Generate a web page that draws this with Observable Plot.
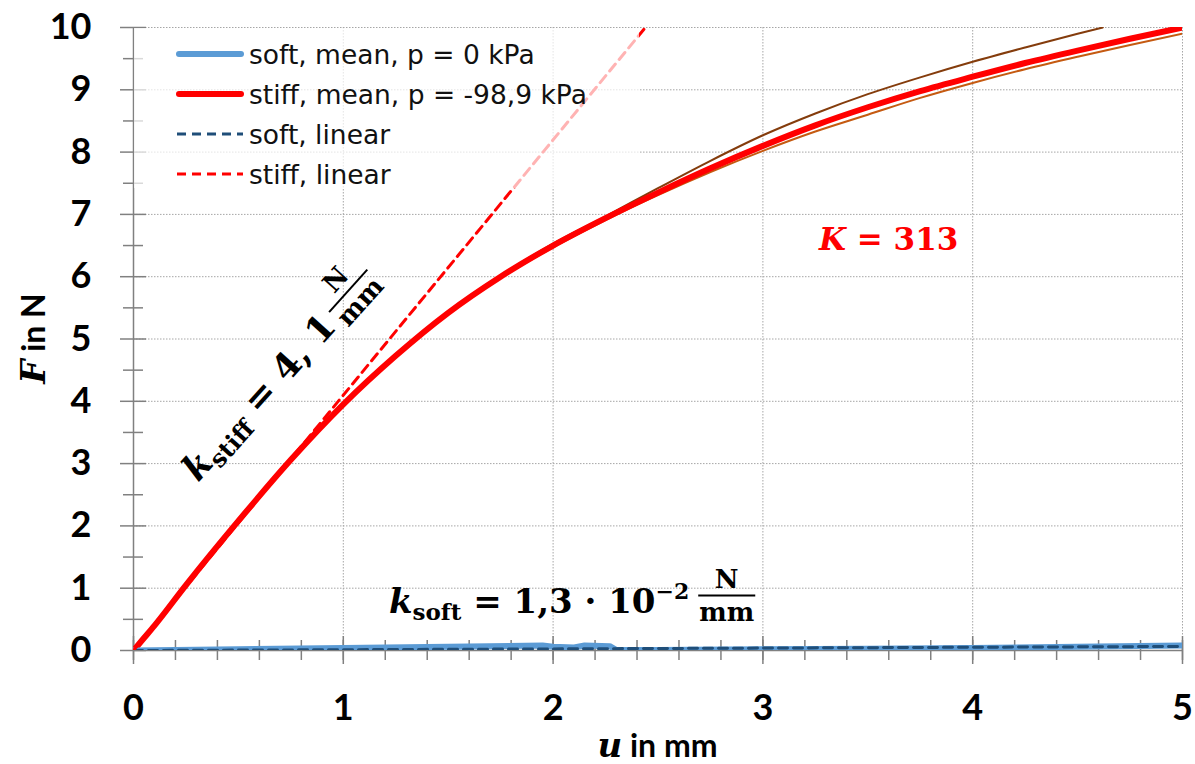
<!DOCTYPE html>
<html>
<head>
<meta charset="utf-8">
<script src="https://cdn.jsdelivr.net/npm/d3@7"></script>
<script src="https://cdn.jsdelivr.net/npm/@observablehq/plot@0.6"></script>
<style>
  body { margin: 0; background: #fff; }
  #wrap { position: relative; width: 1195px; height: 764px; }
  #legend {
    position: absolute; left: 134px; top: 28px; width: 505px; height: 160px;
    background: rgba(255,255,255,0.7);
    font-family: 'DejaVu Sans', sans-serif; font-size: 26.5px; color: #111;
  }
  .row { position: absolute; left: 0; height: 40px; display: flex; align-items: center; white-space: nowrap; }
  .row svg { margin-left: 42px; margin-right: 5px; }
</style>
</head>
<body>
<div id="wrap">
  <div id="chart"></div>
  <div id="legend"></div>
</div>
<script>
// ---- data ----
const stiffMeanU = [0, 0.05, 0.1, 0.25, 0.5, 0.75, 1.0, 1.25, 1.5, 1.75, 2.0, 2.25, 2.5, 2.75, 3.0, 3.25, 3.5, 3.75, 4.0, 4.25, 4.5, 4.75, 5.0];
const stiffMeanF = [0, 0.2, 0.4, 1.05, 2.08, 3.06, 3.95, 4.73, 5.42, 6.0, 6.5, 6.94, 7.35, 7.74, 8.1, 8.43, 8.72, 8.98, 9.21, 9.43, 9.63, 9.82, 10.0];

const stiffAU = [0, 0.05, 0.1, 0.25, 0.5, 0.75, 1.0, 1.25, 1.5, 1.75, 2.0, 2.25, 2.5, 2.75, 3.0, 3.25, 3.5, 3.75, 4.0, 4.25, 4.5, 4.62];
const stiffAF = [0, 0.2, 0.41, 1.06, 2.09, 3.08, 3.97, 4.75, 5.44, 6.02, 6.53, 6.97, 7.42, 7.86, 8.27, 8.62, 8.93, 9.2, 9.45, 9.68, 9.9, 10.0];

const stiffBU = [0, 0.05, 0.1, 0.25, 0.5, 0.75, 1.0, 1.25, 1.5, 1.75, 2.0, 2.25, 2.5, 2.75, 3.0, 3.25, 3.5, 3.75, 4.0, 4.25, 4.5, 4.75, 5.0];
const stiffBF = [0, 0.2, 0.39, 1.04, 2.07, 3.04, 3.93, 4.71, 5.4, 5.98, 6.47, 6.91, 7.31, 7.68, 8.02, 8.33, 8.6, 8.87, 9.11, 9.33, 9.53, 9.72, 9.9];

const softMeanU = [0, 0.5, 1.0, 1.5, 1.95, 2.0, 2.1, 2.15, 2.27, 2.3, 2.5, 3.0, 3.5, 4.0, 4.5, 5.0];
const softMeanF = [0, 0.02, 0.04, 0.06, 0.08, 0.06, 0.05, 0.08, 0.07, 0.01, 0.01, 0.02, 0.03, 0.04, 0.06, 0.08];

const softLinU = [0, 5];
const softLinF = [0, 0.065];
const stiffLinU = [0, 2.44];
const stiffLinF = [0, 10];

const xMajor = [0, 1, 2, 3, 4, 5];
const xMinor = d3.range(0, 5.01, 0.2).map(v => +v.toFixed(1));
const yMajor = [0, 1, 2, 3, 4, 5, 6, 7, 8, 9, 10];
const yMinor = d3.range(0.5, 10, 1);

const legendItems = [
  { label: "soft, mean, p = 0 kPa", color: "#5b9bd5", width: 6, dash: null },
  { label: "stiff, mean, p = -98,9 kPa", color: "#ff0000", width: 6, dash: null },
  { label: "soft, linear", color: "#1f4e79", width: 3, dash: "9,6" },
  { label: "stiff, linear", color: "#ff0000", width: 3, dash: "9,6" }
];

const zip = (us, fs) => us.map((u, i) => ({ u, F: fs[i] }));
const intFmt = d3.format("d");

const plot = Plot.plot({
  width: 1195, height: 764,
  marginLeft: 133, marginRight: 13, marginTop: 27, marginBottom: 114,
  x: { domain: [0, 5] },
  y: { domain: [0, 10] },
  style: { fontFamily: "Lato, sans-serif", background: "white", color: "#000" },
  marks: [
    Plot.gridX(xMajor.slice(1), { stroke: "#a6a6a6", strokeOpacity: 1, strokeDasharray: "1.5,1.5" }),
    Plot.gridY(yMajor.slice(1), { stroke: "#a6a6a6", strokeOpacity: 1, strokeDasharray: "1.5,1.5" }),
    Plot.ruleX([0], { stroke: "#808080", strokeWidth: 1.5 }),
    Plot.ruleY([0], { stroke: "#808080", strokeWidth: 1.5 }),
    // cross ticks
    Plot.axisY({ ticks: yMajor, tickSize: 26, dx: 13, tickFormat: () => "", label: null, stroke: "#808080", strokeWidth: 1.5 }),
    Plot.axisY({ ticks: yMinor, tickSize: 20, dx: 10, tickFormat: () => "", label: null, stroke: "#808080", strokeWidth: 1.5 }),
    Plot.axisX({ ticks: xMinor, tickSize: 20, dy: -10, tickFormat: () => "", label: null, stroke: "#808080", strokeWidth: 1.5 }),
    Plot.axisX({ ticks: xMajor, tickSize: 28, dy: -14, tickFormat: () => "", label: null, stroke: "#808080", strokeWidth: 1.5 }),
    // tick labels
    Plot.axisY({ ticks: yMajor, tickSize: 0, tickPadding: 42, tickFormat: intFmt, fontSize: 36, fontWeight: "bold", label: null }),
    Plot.axisX({ ticks: xMajor, tickSize: 0, tickPadding: 44, tickFormat: intFmt, fontSize: 36, fontWeight: "bold", label: null }),
    // curves
    Plot.line(zip(stiffAU, stiffAF), { x: "u", y: "F", stroke: "#843c0c", strokeWidth: 2, curve: "monotone-x", clip: true }),
    Plot.line(zip(stiffBU, stiffBF), { x: "u", y: "F", stroke: "#c55a11", strokeWidth: 2, curve: "monotone-x", clip: true }),
    Plot.line(zip(stiffMeanU, stiffMeanF), { x: "u", y: "F", stroke: "#ff0000", strokeWidth: 6, curve: "monotone-x", clip: true }),
    Plot.line(zip(softMeanU, softMeanF), { x: "u", y: "F", stroke: "#5b9bd5", strokeWidth: 6, clip: true }),
    Plot.line(zip(softLinU, softLinF), { x: "u", y: "F", stroke: "#1f4e79", strokeWidth: 3, strokeDasharray: "9,6", clip: true }),
    Plot.line(zip(stiffLinU, stiffLinF), { x: "u", y: "F", stroke: "#ff0000", strokeWidth: 3, strokeDasharray: "9,6", clip: true })
  ]
});

document.getElementById("chart").appendChild(plot);

// ---- annotations (positioned through the plot's scales) ----
const xs = plot.scale("x"), ys = plot.scale("y");
const svg = d3.select(plot);
const MATH = "'DejaVu Serif', serif";

function fraction(g, x, base, size) {
  const top = g.append("text").attr("font-family", MATH).attr("font-weight", "bold").attr("font-size", size)
    .attr("text-anchor", "middle").attr("fill", "#000").text("N");
  const bot = g.append("text").attr("font-family", MATH).attr("font-weight", "bold").attr("font-size", size)
    .attr("text-anchor", "middle").attr("fill", "#000").text("mm");
  const w = bot.node().getBBox().width + 2;
  const lineY = base - 17;
  top.attr("x", x + w / 2).attr("y", lineY - 8);
  bot.attr("x", x + w / 2).attr("y", lineY + 25);
  g.append("line").attr("x1", x).attr("x2", x + w).attr("y1", lineY).attr("y2", lineY)
    .attr("stroke", "#000").attr("stroke-width", 2);
}

function mathText(g, size) {
  return g.append("text").attr("x", 0).attr("y", 0).attr("text-anchor", "start")
    .attr("font-family", MATH).attr("font-weight", "bold").attr("font-size", size).attr("fill", "#000");
}

// K = 313
{
  const g = svg.append("g").attr("transform", `translate(${xs.apply(3.27)},${ys.apply(6.42)})`);
  const t = mathText(g, 31).attr("fill", "#ff0000");
  t.append("tspan").attr("font-style", "italic").text("K");
  t.append("tspan").text(" = 313");
}

// k_soft
{
  const g = svg.append("g").attr("transform", `translate(${xs.apply(1.22)},${ys.apply(0.6)})`);
  const t = mathText(g, 34);
  t.append("tspan").attr("font-style", "italic").text("k");
  t.append("tspan").attr("font-size", 23).attr("dy", 7).text("soft");
  t.append("tspan").attr("dy", -7).text(" = 1,3 · 10");
  t.append("tspan").attr("font-size", 22).attr("dy", -14).text("−2");
  const b = t.node().getBBox();
  fraction(g, b.x + b.width + 9, 0, 26);
}

// k_stiff (rotated along the fit line)
{
  const g = svg.append("g").attr("transform", `translate(${xs.apply(0.31)},${ys.apply(2.68)}) rotate(-48)`);
  const t = mathText(g, 36);
  t.append("tspan").attr("font-style", "italic").text("k");
  t.append("tspan").attr("font-size", 24).attr("dy", 7).text("stiff");
  t.append("tspan").attr("dy", -7).text(" = 4, 1");
  const b = t.node().getBBox();
  fraction(g, b.x + b.width + 6, 0, 26);
}

// axis titles
{
  const t = svg.append("text").attr("x", xs.apply(2.5)).attr("y", 757).attr("text-anchor", "middle")
    .attr("font-family", "Lato, sans-serif").attr("font-weight", "bold").attr("font-size", 32).attr("fill", "#000");
  t.append("tspan").attr("font-family", MATH).attr("font-style", "italic").attr("font-size", 34).text("u");
  t.append("tspan").text(" in mm");
}
{
  const t = svg.append("text").attr("transform", `translate(45,${ys.apply(5)}) rotate(-90)`).attr("text-anchor", "middle")
    .attr("font-family", "Lato, sans-serif").attr("font-weight", "bold").attr("font-size", 32).attr("fill", "#000");
  t.append("tspan").attr("font-family", MATH).attr("font-style", "italic").attr("font-size", 34).text("F");
  t.append("tspan").text(" in N");
}

// ---- legend (HTML) ----
const legend = d3.select("#legend");
legendItems.forEach((d, i) => {
  const row = legend.append("div").attr("class", "row").style("top", `${6 + i * 40}px`);
  const s = row.append("svg").attr("width", 68).attr("height", 12);
  s.append("line").attr("x1", d.dash ? 1 : 3).attr("x2", d.dash ? 67 : 65).attr("y1", 6).attr("y2", 6)
    .attr("stroke", d.color).attr("stroke-width", d.width).attr("stroke-linecap", d.dash ? "butt" : "round")
    .attr("stroke-dasharray", d.dash);
  row.append("span").text(d.label);
});
</script>
</body>
</html>
